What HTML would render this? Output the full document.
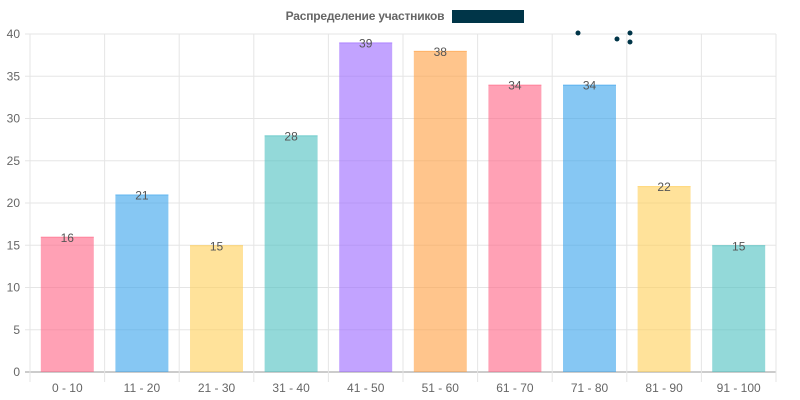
<!DOCTYPE html>
<html><head><meta charset="utf-8"><style>
body{margin:0;background:#fff;font-family:"Liberation Sans","DejaVu Sans",sans-serif}
svg{display:block}
</style></head><body>
<svg id="c" width="800" height="400" xmlns="http://www.w3.org/2000/svg">
<text x="365" y="20" font-size="12" font-weight="bold" fill="#666" text-anchor="middle" letter-spacing="-0.2">Распределение участников</text>
<rect x="452" y="10" width="72" height="13" fill="#003548"/>
<g id="g"></g>
<circle cx="578" cy="33" r="2.5" fill="#003548"/>
<circle cx="617" cy="39" r="2.5" fill="#003548"/>
<circle cx="630" cy="33" r="2.5" fill="#003548"/>
<circle cx="630" cy="42" r="2.5" fill="#003548"/>
</svg>
<script>
const categories=["0 - 10","11 - 20","21 - 30","31 - 40","41 - 50","51 - 60","61 - 70","71 - 80","81 - 90","91 - 100"];
const values=[16,21,15,28,39,38,34,34,22,15];
const yTicks=[0,5,10,15,20,25,30,35,40];
const fills=["rgba(255,99,132,0.6)","rgba(54,162,235,0.6)","rgba(255,206,86,0.6)","rgba(75,192,192,0.6)","rgba(153,102,255,0.6)","rgba(255,159,64,0.6)","rgba(255,99,132,0.6)","rgba(54,162,235,0.6)","rgba(255,206,86,0.6)","rgba(75,192,192,0.6)"];
const borders=["#ff6384","#36a2eb","#ffce56","#4bc0c0","#9966ff","#ff9f40","#ff6384","#36a2eb","#ffce56","#4bc0c0"];
const L=30,R=776,T=34,B=372,yMax=40;
const g=document.getElementById('g');const NS="http://www.w3.org/2000/svg";
const bw=(R-L)/categories.length;
function y(v){return B-(v/yMax)*(B-T);}
function x(i){return L+i*bw;}
function mk(t,a){const e=document.createElementNS(NS,t);for(const k in a)e.setAttribute(k,a[k]);g.appendChild(e);return e;}
yTicks.forEach(v=>{
 const l=mk('line',{x1:L-5,x2:R,y1:y(v),y2:y(v),stroke:v===0?'#999':'#e5e5e5','stroke-width':1});
 
 
 const t=mk('text',{x:L-10,y:y(v)+4,'font-size':12,fill:'#666','text-anchor':'end'});t.textContent=v;
 
 
});
for(let i=0;i<=categories.length;i++){
 const l=mk('line',{x1:x(i),x2:x(i),y1:T,y2:B+10,stroke:'#e5e5e5','stroke-width':1});
 
 
}
categories.forEach((c,i)=>{
 const cx=x(i)+bw/2,w=bw*0.71,v=values[i];
 const r=mk('rect',{x:cx-w/2,y:y(v),width:w,height:B-y(v),fill:fills[i]});
 
 
 const tl=mk('line',{x1:cx-w/2,x2:cx+w/2,y1:y(v)+0.5,y2:y(v)+0.5,stroke:borders[i],'stroke-width':1,'stroke-opacity':0.5});
 
 
 const vt=mk('text',{x:cx,y:y(v)+5,'font-size':12,fill:'#555','text-anchor':'middle'});vt.textContent=v;
 
 
 const t=mk('text',{x:cx,y:B+20,'font-size':12,fill:'#666','text-anchor':'middle'});t.textContent=c;
 
 
});
</script>
</body></html>
